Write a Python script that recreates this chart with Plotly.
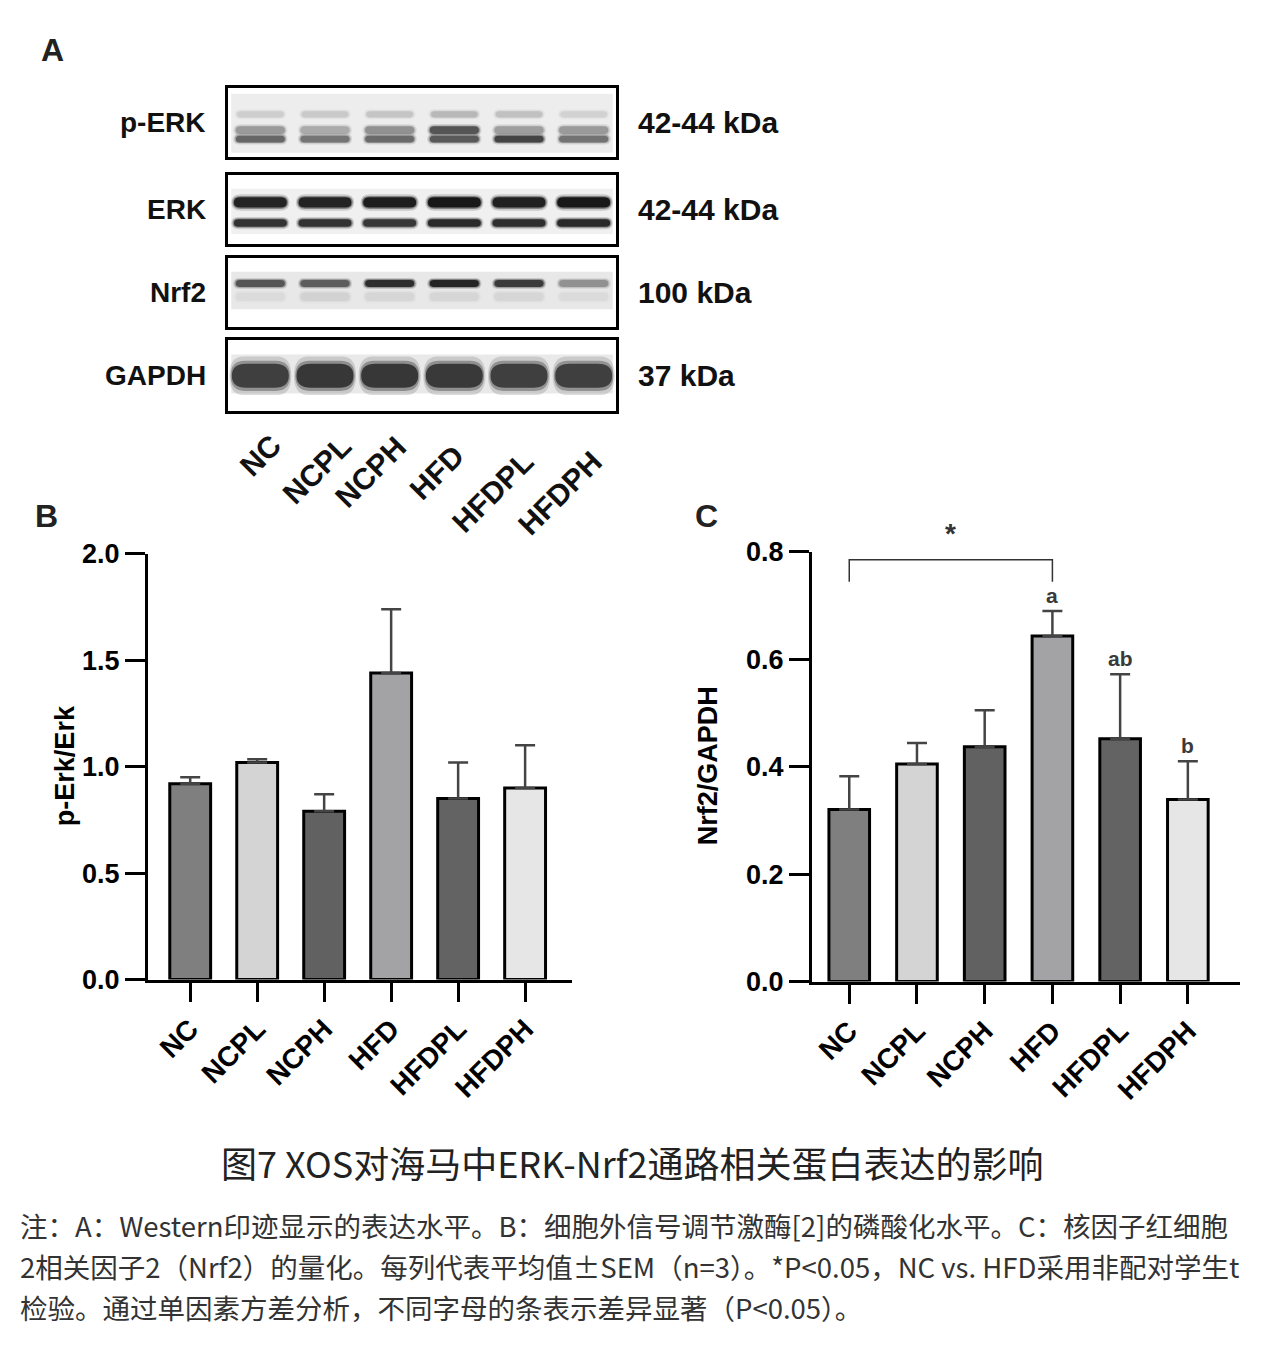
import plotly.graph_objects as go

W, H = 1263, 1368

groups = ["NC", "NCPL", "NCPH", "HFD", "HFDPL", "HFDPH"]
bar_colors = ["#7f7f7f", "#d4d4d4", "#616161", "#a3a3a6", "#636363", "#e6e6e6"]

# panel B: p-Erk/Erk
perk_mean = [0.92, 1.02, 0.79, 1.44, 0.85, 0.90]
perk_sem = [0.03, 0.015, 0.08, 0.30, 0.17, 0.20]
yticks_b = [0.0, 0.5, 1.0, 1.5, 2.0]

# panel C: Nrf2/GAPDH
nrf2_mean = [0.32, 0.405, 0.437, 0.643, 0.452, 0.339]
nrf2_sem = [0.062, 0.039, 0.068, 0.047, 0.120, 0.071]
nrf2_letters = ["", "", "", "a", "ab", "b"]
yticks_c = [0.0, 0.2, 0.4, 0.6, 0.8]

# panel A: western blot, band darkness per lane (0 white .. 1 black)
blot_names = ["p-ERK", "ERK", "Nrf2", "GAPDH"]
blot_sizes = ["42-44 kDa", "42-44 kDa", "100 kDa", "37 kDa"]
perk_top = [0.14, 0.16, 0.18, 0.24, 0.20, 0.12]
perk_mid = [0.38, 0.30, 0.42, 0.70, 0.36, 0.38]
perk_low = [0.62, 0.55, 0.60, 0.68, 0.78, 0.56]
erk_p44 = [0.93, 0.93, 0.96, 0.98, 0.94, 0.98]
erk_p42 = [0.86, 0.86, 0.84, 0.90, 0.88, 0.90]
nrf2_band = [0.70, 0.66, 0.88, 0.92, 0.82, 0.42]
nrf2_faint = [0.08, 0.12, 0.10, 0.10, 0.10, 0.08]
gapdh_band = [0.80, 0.84, 0.84, 0.83, 0.80, 0.80]


def px(x):
    return x / W


def py(y):
    # the photographed page comes out slightly squeezed vertically, so
    # correct the target pixel row before turning it into paper units
    return 1 - ((y - 12.6) / 0.981) / H


def grey(d):
    v = int(round(236 - 216 * d))
    return "rgb(%d,%d,%d)" % (v, v, v)


def pill(xc, yc, hw, hh, rx):
    xl, xr, yt, yb = xc - hw, xc + hw, yc - hh, yc + hh
    return ("M %.3f,%.3f L %.3f,%.3f Q %.3f,%.3f %.3f,%.3f Q %.3f,%.3f %.3f,%.3f "
            "L %.3f,%.3f Q %.3f,%.3f %.3f,%.3f Q %.3f,%.3f %.3f,%.3f Z"
            % (xl + rx, yt, xr - rx, yt, xr, yt, xr, yc, xr, yb, xr - rx, yb,
               xl + rx, yb, xl, yb, xl, yc, xl, yt, xl + rx, yt))


bold = dict(family="Liberation Sans, Arial, sans-serif", color="black", weight="bold")
blotfont = dict(family="Liberation Sans, Arial, sans-serif", color="#111", weight="bold")

fig = go.Figure()

# ---- bar panels ----
fig.add_trace(go.Bar(x=groups, y=perk_mean, xaxis="x", yaxis="y",
                     marker=dict(color=bar_colors, line=dict(color="black", width=3)),
                     width=0.61,
                     error_y=dict(type="data", array=perk_sem,
                                  arrayminus=[0] * len(perk_sem), symmetric=False,
                                  color="#444", thickness=2.5, width=10)))
fig.add_trace(go.Bar(x=groups, y=nrf2_mean, xaxis="x2", yaxis="y2",
                     marker=dict(color=bar_colors, line=dict(color="black", width=3)),
                     width=0.6,
                     error_y=dict(type="data", array=nrf2_sem,
                                  arrayminus=[0] * len(nrf2_sem), symmetric=False,
                                  color="#444", thickness=2.5, width=10)))

# significance bracket NC vs HFD
fig.add_trace(go.Scatter(x=[groups[0], groups[0], groups[3], groups[3]],
                         y=[0.744, 0.785, 0.785, 0.744], xaxis="x2", yaxis="y2",
                         mode="lines", line=dict(color="#333", width=1.5),
                         hoverinfo="skip"))

xax = dict(showline=True, linecolor="black", linewidth=3, ticks="outside",
           ticklen=19, tickwidth=3, tickcolor="black", tickangle=-45,
           tickfont=dict(size=28, **bold), showgrid=False, zeroline=False,
           fixedrange=True)
yax = dict(showline=True, linecolor="black", linewidth=3, ticks="outside",
           ticklen=20, tickwidth=3, tickcolor="black",
           tickfont=dict(size=27, **bold), showgrid=False, zeroline=False,
           tickformat=".1f", fixedrange=True)

layout = dict(
    width=W, height=H, margin=dict(l=0, r=0, t=0, b=0),
    paper_bgcolor="white", plot_bgcolor="white", showlegend=False,
    xaxis=dict(xax, domain=[px(148), px(572)], range=[-0.63, 5.7], anchor="y"),
    yaxis=dict(yax, domain=[py(980), py(553)], range=[0, 2.0], tickvals=yticks_b,
               anchor="x"),
    xaxis2=dict(xax, domain=[px(812), px(1240)], range=[-0.55, 5.77], anchor="y2"),
    yaxis2=dict(yax, domain=[py(982), py(551)], range=[0, 0.8], tickvals=yticks_c,
                anchor="x2"),
)

# ---- blot panels ----
box_rows = [(86, 155), (173, 242), (256, 326), (339, 410)]
lane_px = (616 - 228) / 6.0
gel_area = [(0.08, 0.94, "#ededed"), (0.20, 0.86, "#f0f0f0"),
            (0.20, 0.74, "#e8e8e8"), (0.20, 0.75, "#e9e9e9")]
# (blot, darkness, rel y centre, rel half height, half width in lanes)
band_rows = [
    (0, perk_top, 0.38, 0.045, 0.36),
    (0, perk_mid, 0.61, 0.055, 0.38),
    (0, perk_low, 0.74, 0.05, 0.38),
    (1, erk_p44, 0.40, 0.075, 0.41),
    (1, erk_p42, 0.70, 0.055, 0.41),
    (2, nrf2_band, 0.37, 0.05, 0.38),
    (2, nrf2_faint, 0.56, 0.06, 0.38),
    (3, gapdh_band, 0.50, 0.17, 0.44),
]

shapes = []
for k, (top, bottom) in enumerate(box_rows):
    n = k + 3
    layout["xaxis%d" % n] = dict(domain=[px(228), px(616)], range=[0, 6],
                                 showline=True, mirror=True, linecolor="black",
                                 linewidth=3, showticklabels=False, ticks="",
                                 showgrid=False, zeroline=False, anchor="y%d" % n,
                                 fixedrange=True)
    layout["yaxis%d" % n] = dict(domain=[py(bottom), py(top)], range=[1, 0],
                                 showline=True, mirror=True, linecolor="black",
                                 linewidth=3, showticklabels=False, ticks="",
                                 showgrid=False, zeroline=False, anchor="x%d" % n,
                                 fixedrange=True)
    g0, g1, gcol = gel_area[k]
    shapes.append(dict(type="rect", xref="x%d" % n, yref="y%d" % n,
                       x0=0.05, x1=5.95, y0=g0, y1=g1, fillcolor=gcol,
                       line=dict(width=0), layer="below"))
    fig.add_trace(go.Scatter(x=[i + 0.5 for i in range(len(groups))],
                             y=[0.5] * len(groups), xaxis="x%d" % n, yaxis="y%d" % n,
                             mode="markers", marker=dict(opacity=0),
                             hoverinfo="skip"))

# each band: soft outer glow, middle layer, dark core
for blot, dark, yc, hh, hw in band_rows:
    n = blot + 3
    box_h = box_rows[blot][1] - box_rows[blot][0]
    for i, d in enumerate(dark):
        xc = i + 0.5
        for grow_x, grow_y, op in [(0.04, 1.6, 0.18), (0.02, 1.25, 0.4), (0.0, 1.0, 1.0)]:
            h2 = hh * grow_y
            rx = min(hw * 0.5, 1.2 * h2 * box_h / lane_px)
            shapes.append(dict(type="path", xref="x%d" % n, yref="y%d" % n,
                               path=pill(xc, yc, hw + grow_x, h2, rx),
                               fillcolor=grey(d), opacity=op,
                               line=dict(width=0), layer="below"))

layout["shapes"] = shapes

ann = []
for k, (top, bottom) in enumerate(box_rows):
    yc = py((top + bottom) / 2)
    ann.append(dict(text=blot_names[k], x=px(208), y=yc, xref="paper", yref="paper",
                    xanchor="right", yanchor="middle", showarrow=False,
                    font=dict(size=28, **blotfont)))
    ann.append(dict(text=blot_sizes[k], x=px(636), y=yc, xref="paper", yref="paper",
                    xanchor="left", yanchor="middle", showarrow=False,
                    font=dict(size=30, **blotfont)))

# lane labels under the blots (hand placed in the original)
label_dx = [0.46, 0.55, 0.40, 0.29, 0.37, 0.41]
label_top = [425, 425, 426, 435, 441, 441]
for i, g in enumerate(groups):
    ann.append(dict(text=g, x=i + 0.5 + label_dx[i], y=py(label_top[i]), xref="x6",
                    yref="paper", xanchor="right", yanchor="top", textangle=-45,
                    showarrow=False, font=dict(size=30, **blotfont)))

# panel letters
for letter, lx, ly in [("A", 52, 48), ("B", 46, 515), ("C", 706, 515)]:
    ann.append(dict(text=letter, x=px(lx), y=py(ly), xref="paper", yref="paper",
                    xanchor="center", yanchor="middle", showarrow=False,
                    font=dict(size=32, family="Liberation Sans, Arial", color="#222",
                              weight="bold")))

# axis titles
ann.append(dict(text="p-Erk/Erk", x=px(48), y=py(766), xref="paper", yref="paper",
                textangle=-90, showarrow=False, font=dict(size=27, **bold)))
ann.append(dict(text="Nrf2/GAPDH", x=px(708), y=py(766), xref="paper", yref="paper",
                textangle=-90, showarrow=False, font=dict(size=27, **bold)))

# letters over bars in C
for i, lab in enumerate(nrf2_letters):
    if lab:
        ann.append(dict(text=lab, x=groups[i], y=nrf2_mean[i] + nrf2_sem[i],
                        xref="x2", yref="y2", yanchor="bottom", yshift=2,
                        showarrow=False,
                        font=dict(size=21, family="Liberation Sans, Arial",
                                  color="#3a3a3a", weight="bold")))
ann.append(dict(text="*", x=1.5, y=py(533), xref="x2", yref="paper",
                yanchor="middle", showarrow=False,
                font=dict(size=28, family="Liberation Sans, Arial", color="#333",
                          weight="bold")))

# caption
cjk = "Noto Sans CJK SC, Noto Sans, sans-serif"
ann.append(dict(text="图7 XOS对海马中ERK-Nrf2通路相关蛋白表达的影响", x=px(632),
                y=py(1163), xref="paper", yref="paper", xanchor="center",
                yanchor="middle", showarrow=False,
                font=dict(size=36, family=cjk, color="#222")))
notes = [
    "注：A：Western印迹显示的表达水平。B：细胞外信号调节激酶[2]的磷酸化水平。C：核因子红细胞",
    "2相关因子2（Nrf2）的量化。每列代表平均值±SEM（n=3）。*P<0.05，NC vs. HFD采用非配对学生t",
    "检验。通过单因素方差分析，不同字母的条表示差异显著（P<0.05）。",
]
for j, line in enumerate(notes):
    ann.append(dict(text=line, x=px(18), y=py(1226 + 41 * j), xref="paper",
                    yref="paper", xanchor="left", yanchor="middle", showarrow=False,
                    font=dict(size=27.5, family=cjk, color="#333")))

layout["annotations"] = ann
fig.update_layout(**layout)

fig.write_html("out.html", config={"displayModeBar": False},
               post_script="document.body.style.margin='0';")
